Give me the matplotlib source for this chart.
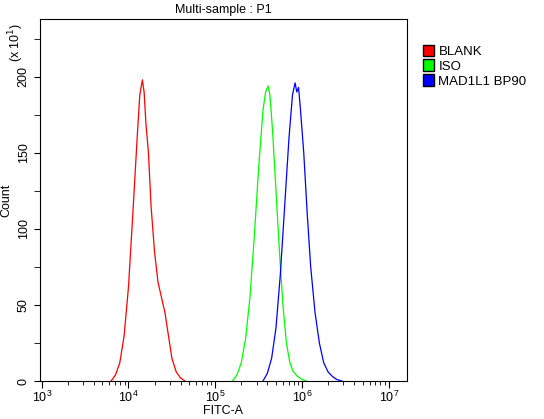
import numpy as np
import matplotlib.pyplot as plt
from matplotlib.patches import Patch
from matplotlib.ticker import LogLocator

plt.rcParams["font.family"] = ["Liberation Sans", "DejaVu Sans"]

# log10(FITC-A) positions and counts (x10^1)
blank_x = [3.80, 3.85, 3.90, 3.95, 4.00, 4.05, 4.10, 4.13, 4.16, 4.18, 4.20, 4.23, 4.26, 4.30, 4.34, 4.38, 4.42, 4.46, 4.50, 4.55, 4.60, 4.65]
blank_y = [0, 4, 12, 30, 62, 110, 160, 188, 198, 190, 170, 150, 115, 85, 65, 55, 45, 30, 15, 6, 2, 0]
iso_x = [5.20, 5.25, 5.30, 5.35, 5.40, 5.45, 5.50, 5.55, 5.58, 5.61, 5.63, 5.66, 5.70, 5.74, 5.78, 5.82, 5.86, 5.90, 5.95, 6.00, 6.05]
iso_y = [0, 4, 12, 28, 55, 95, 140, 178, 190, 194, 188, 165, 125, 85, 50, 25, 12, 6, 3, 1, 0]
mad_x = [5.55, 5.60, 5.65, 5.70, 5.75, 5.80, 5.85, 5.89, 5.92, 5.94, 5.96, 5.98, 6.02, 6.06, 6.10, 6.15, 6.20, 6.25, 6.30, 6.35, 6.40, 6.46]
mad_y = [0, 5, 15, 35, 70, 115, 160, 188, 196, 190, 193, 180, 150, 110, 75, 45, 25, 12, 6, 3, 1, 0]

fig = plt.figure(figsize=(5.44, 4.19), dpi=100)
ax = fig.add_axes([40 / 544, 1 - 381 / 419, 367 / 544, 362 / 419])
ax.plot(10 ** np.array(blank_x), blank_y, color="#ff0000", lw=0.9)
ax.plot(10 ** np.array(iso_x), iso_y, color="#00ff00", lw=0.9)
ax.plot(10 ** np.array(mad_x), mad_y, color="#0000ff", lw=0.9)

ax.set_xscale("log")
ax.set_xlim(10 ** 2.98, 10 ** 7.21)
ax.set_ylim(0, 238)
ax.set_xticks([1e3, 1e4, 1e5, 1e6, 1e7])
ax.xaxis.set_minor_locator(LogLocator(base=10, subs=np.arange(2, 10), numticks=20))
ax.set_yticks([0, 50, 100, 150, 200])
ax.set_yticks(np.arange(25, 238, 50), minor=True)
ax.tick_params(axis="y", labelrotation=90, labelsize=9, direction="out", length=4)
ax.tick_params(axis="y", which="minor", length=4)
ax.tick_params(axis="x", labelsize=9, direction="out", length=5, pad=1)
ax.tick_params(axis="x", which="minor", length=3)
for lbl in ax.get_yticklabels():
    lbl.set_va("center")
ax.set_xlabel("FITC-A", fontsize=9, labelpad=0)
ax.set_ylabel("Count", fontsize=9)
ax.set_title("Multi-sample : P1", fontsize=9, pad=4)
fig.text(6 / 544, 1 - 42 / 419, "(x 10$^1$)", rotation=90, fontsize=9, ha="left", va="center")

handles = [Patch(facecolor=c, edgecolor="black", label=l)
           for c, l in [("#ff0000", "BLANK"), ("#00ff00", "ISO"), ("#0000ff", "MAD1L1 BP90")]]
fig.legend(handles=handles, loc="upper left", bbox_to_anchor=(416 / 544, 1 - 38 / 419),
           frameon=False, fontsize=9.5, handlelength=0.9, handleheight=1.0,
           handletextpad=0.3, labelspacing=0.1, borderpad=0)
fig.savefig("out.png", dpi=100)
